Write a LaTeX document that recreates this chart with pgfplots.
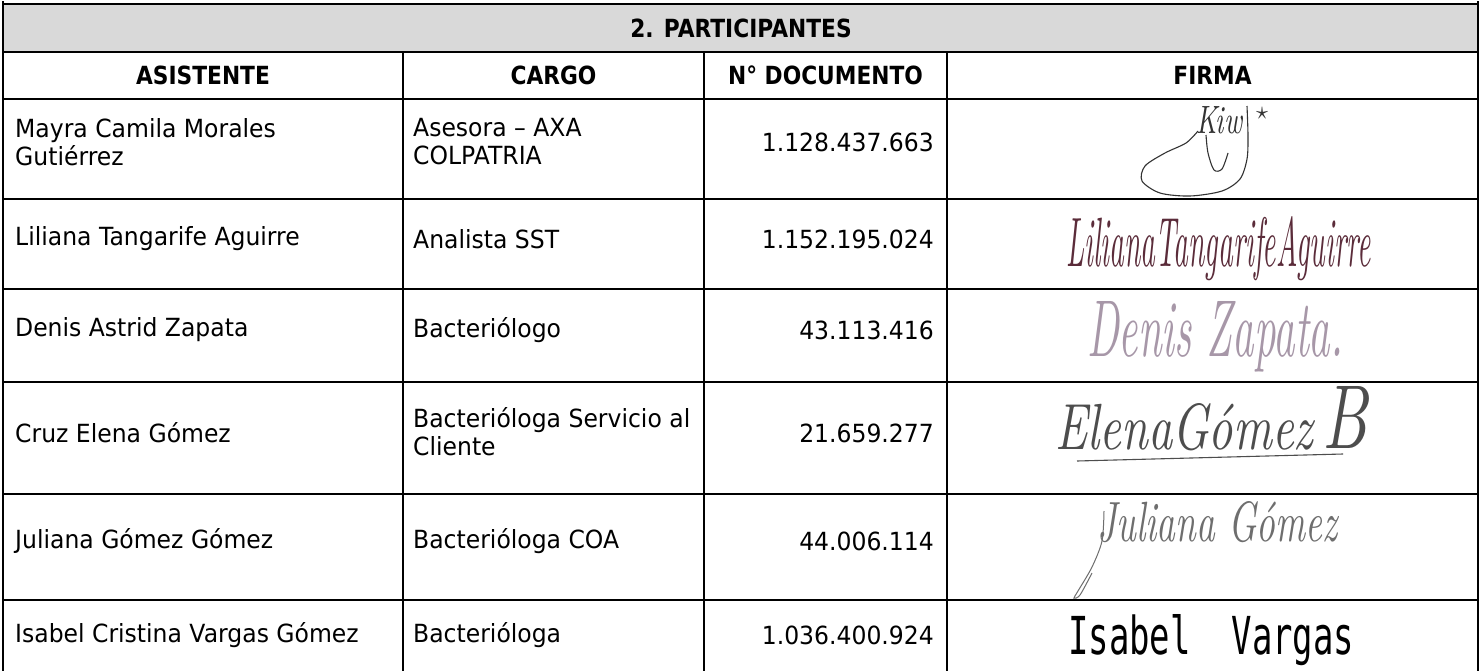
\documentclass[border=0pt]{standalone}
\usepackage{pgfplots}
\pgfplotsset{compat=1.18}
\usepackage{fontspec}
\newfontfamily\tf{DejaVu Sans}[FakeStretch=0.94]
\newfontfamily\tfb{DejaVu Sans}[FakeStretch=0.87]
\newfontfamily\sigmono{DejaVu Sans Mono}
\definecolor{hdrgray}{HTML}{D9D9D9}
\definecolor{sigone}{HTML}{333333}
\definecolor{sigtwo}{HTML}{5B2C3A}
\definecolor{sigthree}{HTML}{A797A8}
\definecolor{sigfour}{HTML}{4D4D4D}
\definecolor{sigfive}{HTML}{6E6E6E}
\begin{document}
\begin{tikzpicture}
\begin{axis}[scale only axis, width=1481pt, height=670pt,
  xmin=0, xmax=1481, ymin=0, ymax=670, y dir=reverse,
  hide axis, clip=false]
% background
\addplot[fill=white, draw=none] coordinates {(0,0)(1481,0)(1481,670)(0,670)} -- cycle;
% gray title band
\addplot[fill=hdrgray, draw=none] coordinates {(3,3)(1478,3)(1478,51)(3,51)} -- cycle;
% horizontal rules
\addplot[black, line width=2pt] coordinates {(2,3)(1479,3)};
\addplot[black, line width=2pt] coordinates {(3,51)(1478,51)};
\addplot[black, line width=2pt] coordinates {(3,98)(1478,98)};
\addplot[black, line width=2pt] coordinates {(3,198)(1478,198)};
\addplot[black, line width=2pt] coordinates {(3,288)(1478,288)};
\addplot[black, line width=2pt] coordinates {(3,381)(1478,381)};
\addplot[black, line width=2pt] coordinates {(3,493)(1478,493)};
\addplot[black, line width=2pt] coordinates {(3,599)(1478,599)};
% vertical rules
\addplot[black, line width=2pt] coordinates {(3,0)(3,670)};
\addplot[black, line width=2pt] coordinates {(1478,0)(1478,670)};
\addplot[black, line width=2pt] coordinates {(403,51)(403,670)};
\addplot[black, line width=2pt] coordinates {(704,51)(704,670)};
\addplot[black, line width=2pt] coordinates {(947,51)(947,670)};
% titles
\node[font=\tfb\bfseries\fontsize{25}{30}\selectfont] at (741,27) {2. PARTICIPANTES};
\node[font=\tfb\bfseries\fontsize{25}{30}\selectfont] at (203,74.5) {ASISTENTE};
\node[font=\tfb\bfseries\fontsize{25}{30}\selectfont] at (553.5,74.5) {CARGO};
\node[font=\tfb\bfseries\fontsize{25}{30}\selectfont] at (825.5,74.5) {N° DOCUMENTO};
\node[font=\tfb\bfseries\fontsize{25}{30}\selectfont] at (1212.5,74.5) {FIRMA};
% column 1
\tikzset{cell/.style={anchor=west, align=left, inner sep=0pt, font=\tf\fontsize{25}{28}\selectfont}}
\tikzset{num/.style={anchor=east, inner sep=0pt, font=\tf\fontsize{25}{28}\selectfont}}
\node[cell] at (15,141) {Mayra Camila Morales\\Gutiérrez};
\node[cell] at (15,238) {Liliana Tangarife Aguirre};
\node[cell] at (15,329) {Denis Astrid Zapata};
\node[cell] at (15,432) {Cruz Elena Gómez};
\node[cell] at (15,540) {Juliana Gómez Gómez};
\node[cell] at (15,634) {Isabel Cristina Vargas Gómez};
% column 2
\node[cell] at (413,141) {Asesora – AXA\\COLPATRIA};
\node[cell] at (413,238) {Analista SST};
\node[cell] at (413,329) {Bacteriólogo};
\node[cell] at (413,431) {Bacterióloga Servicio al\\Cliente};
\node[cell] at (413,540) {Bacterióloga COA};
\node[cell] at (413,634) {Bacterióloga};
% column 3
\node[num] at (934,141) {1.128.437.663};
\node[num] at (934,238) {1.152.195.024};
\node[num] at (934,329) {43.113.416};
\node[num] at (934,432) {21.659.277};
\node[num] at (934,540) {44.006.114};
\node[num] at (934,634) {1.036.400.924};
% signature 1
\node[anchor=base west, inner sep=0pt, text=sigone] at (1196,132) {\resizebox{46pt}{27pt}{\itshape Kiw}};
\node[inner sep=0pt, text=sigone] at (1262,112) {\resizebox{12pt}{12pt}{$\star$}};
\addplot[sigone, line width=1.1pt, smooth] coordinates {(1198,130)(1186,142)(1165,152)(1145,165)(1142,180)(1160,192)(1190,195)(1222,190)(1240,178)(1247,158)(1248,135)(1247,105)};
\addplot[sigone, line width=1.1pt, smooth] coordinates {(1206,134)(1208,152)(1214,169)(1222,168)(1228,152)};
% signature 2
\node[anchor=base west, inner sep=0pt, text=sigtwo] at (1066,265) {\resizebox{304pt}{50pt}{\itshape LilianaTangarifeAguirre}};
% signature 3
\node[anchor=base west, inner sep=0pt, text=sigthree] at (1087,355) {\resizebox{256pt}{55pt}{\itshape Denis Zapata.}};
% signature 4
\node[anchor=base west, inner sep=0pt, text=sigfour] at (1055,448) {\resizebox{258pt}{46pt}{\itshape ElenaGómez}};
\node[anchor=base west, inner sep=0pt, text=sigfour] at (1322,447) {\resizebox{45pt}{62pt}{\itshape B}};
\addplot[sigfour, line width=1.1pt] coordinates {(1077,460)(1343,453)};
% signature 5
\node[anchor=base west, inner sep=0pt, text=sigfive] at (1097,540) {\resizebox{240pt}{40pt}{\itshape Juliana Gómez}};
\addplot[sigfive, line width=1pt, smooth] coordinates {(1104,510)(1102,540)(1092,566)(1078,590)(1074,597)(1080,594)(1092,572)};
% signature 6
\node[anchor=base west, inner sep=0pt, text=black] at (1068,653) {\resizebox{286pt}{40pt}{\sigmono Isabel\ \ Vargas}};
\end{axis}
\end{tikzpicture}
\end{document}
